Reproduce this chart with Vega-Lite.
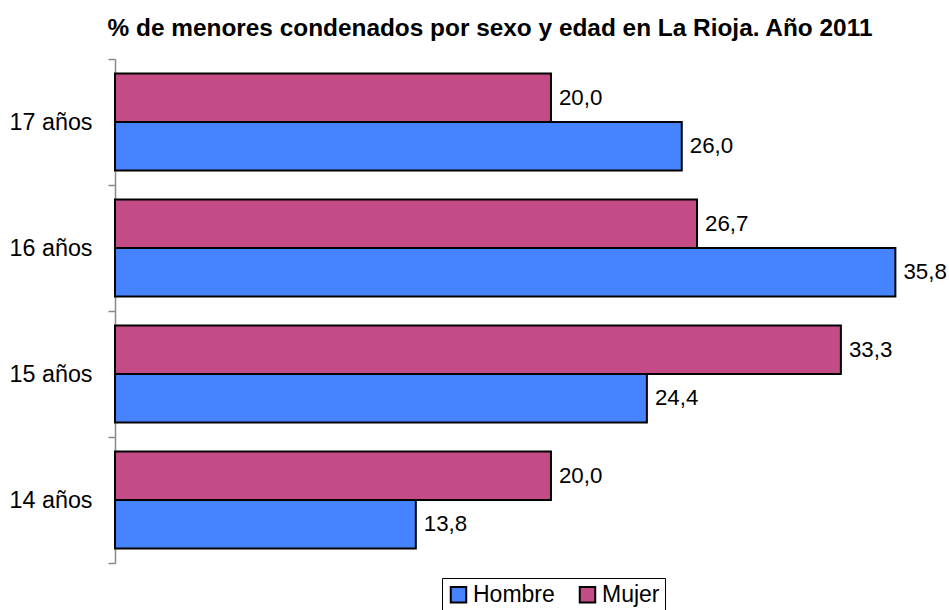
{
  "$schema": "https://vega.github.io/schema/vega-lite/v6.json",
  "autosize": {"type": "none"},
  "width": 800,
  "height": 504,
  "padding": {"left": 115, "top": 59, "right": 34, "bottom": 47},
  "title": {
    "text": "% de menores condenados por sexo y edad en La Rioja. Año 2011",
    "font": "Liberation Sans",
    "fontSize": 24.4,
    "fontWeight": "bold",
    "color": "#000000",
    "anchor": "middle",
    "dx": -25,
    "offset": 6
  },
  "data": {
    "values": [
      {"edad": "17 años", "sexo": "Mujer", "valor": 20.0},
      {"edad": "17 años", "sexo": "Hombre", "valor": 26.0},
      {"edad": "16 años", "sexo": "Mujer", "valor": 26.7},
      {"edad": "16 años", "sexo": "Hombre", "valor": 35.8},
      {"edad": "15 años", "sexo": "Mujer", "valor": 33.3},
      {"edad": "15 años", "sexo": "Hombre", "valor": 24.4},
      {"edad": "14 años", "sexo": "Mujer", "valor": 20.0},
      {"edad": "14 años", "sexo": "Hombre", "valor": 13.8}
    ]
  },
  "encoding": {
    "y": {
      "field": "edad",
      "type": "nominal",
      "sort": ["17 años", "16 años", "15 años", "14 años"],
      "scale": {"paddingInner": 0, "paddingOuter": 0},
      "axis": {
        "title": null,
        "tickBand": "extent",
        "domainColor": "#888888",
        "domainWidth": 1.5,
        "tickColor": "#888888",
        "tickWidth": 1.5,
        "tickSize": 7,
        "labelPadding": 16,
        "labelFont": "Liberation Sans",
        "labelFontSize": 23.3,
        "labelColor": "#000000"
      }
    },
    "yOffset": {
      "field": "sexo",
      "type": "nominal",
      "sort": ["Mujer", "Hombre"],
      "scale": {"paddingInner": 0, "paddingOuter": 0.3}
    },
    "x": {
      "field": "valor",
      "type": "quantitative",
      "scale": {"domain": [0, 36.7], "nice": false},
      "axis": null
    }
  },
  "layer": [
    {
      "mark": {"type": "bar", "stroke": "#000000", "strokeWidth": 2},
      "encoding": {
        "color": {
          "field": "sexo",
          "type": "nominal",
          "scale": {"domain": ["Hombre", "Mujer"], "range": ["#4684FF", "#C44C86"]},
          "legend": {
            "title": null,
            "orient": "none",
            "legendX": 327,
            "legendY": 519,
            "direction": "horizontal",
            "columns": 2,
            "columnPadding": 20,
            "symbolType": "square",
            "symbolSize": 240,
            "symbolStrokeColor": "#000000",
            "symbolStrokeWidth": 2,
            "symbolOpacity": 1,
            "labelFont": "Liberation Sans",
            "labelFontSize": 23,
            "labelColor": "#000000",
            "labelOffset": 3,
            "strokeColor": "#000000",
            "padding": 5
          }
        }
      }
    },
    {
      "mark": {
        "type": "text",
        "align": "left",
        "baseline": "middle",
        "dx": 8,
        "font": "Liberation Sans",
        "fontSize": 22.3,
        "color": "#000000"
      },
      "encoding": {
        "text": {"field": "valor", "type": "quantitative", "format": ".1f"}
      }
    }
  ],
  "config": {
    "view": {"stroke": null},
    "locale": {
      "number": {"decimal": ",", "thousands": ".", "grouping": [3], "currency": ["", " €"]}
    }
  }
}
